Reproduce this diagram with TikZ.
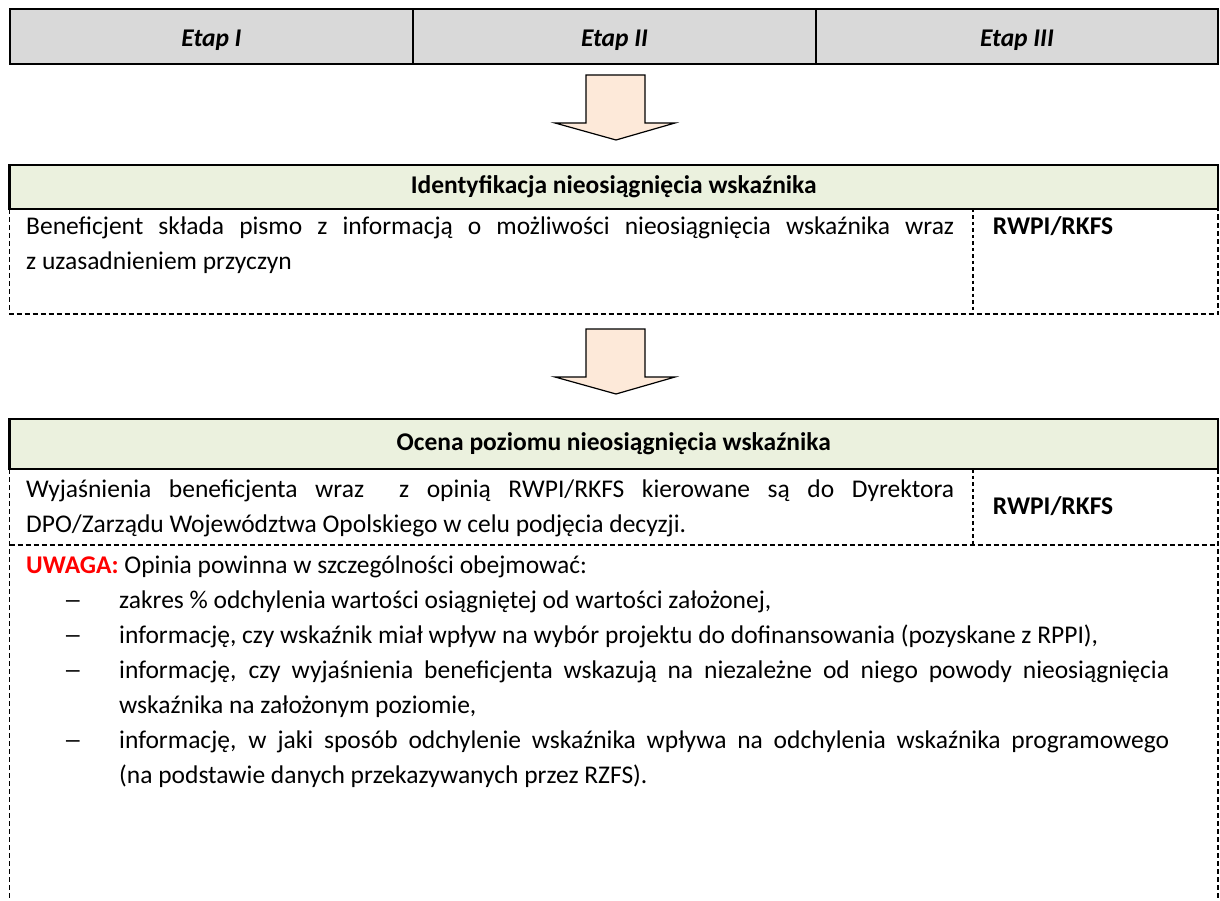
\documentclass[tikz,border=0pt]{standalone}
\usepackage{fontspec}
\usepackage{graphicx}
\setmainfont{Carlito}
\definecolor{etapgray}{HTML}{D9D9D9}
\definecolor{hdrgreen}{HTML}{EBF1DE}
\definecolor{arrowfill}{HTML}{FDE9D9}
\definecolor{uwagared}{HTML}{FF0000}
\newcommand{\bodyfont}{\fontsize{25.5}{35}\selectfont}
\newcommand{\listdash}{\scalebox{1.5}[1]{–}}
\begin{document}
\begin{tikzpicture}[x=1pt,y=-1pt,
  thickborder/.style={draw=black,line width=2.5pt},
  dashborder/.style={draw=black,line width=1.6pt,dash pattern=on 5pt off 3pt},
  divborder/.style={draw=black,line width=2pt,dash pattern=on 3.5pt off 3pt},
  txt/.style={font=\bodyfont,inner sep=0pt},
  etapcell/.style={thickborder,fill=etapgray,minimum height=55pt,inner sep=0pt},
  etaptxt/.style={inner sep=0pt,anchor=base,font=\bodyfont\bfseries\itshape},
  hdrcell/.style={thickborder,fill=hdrgreen,minimum width=1208.5pt,inner sep=0pt,
     font=\bodyfont\bfseries},
  bigarrow/.style={draw=black,line width=1.2pt,fill=arrowfill,line join=miter},
  listtxt/.style={txt,text width=1050pt,align=justify,anchor=base west},
  dashmark/.style={txt,anchor=base}
]
\useasboundingbox (0,0) rectangle (1220,901);
\fill[white] (0,0) rectangle (1220,901);

% top table
\node[etapcell,minimum width=403pt] (e1c) at (211.5,36.5) {};
\node[etapcell,minimum width=403pt] (e2c) at (614.5,36.5) {};
\node[etapcell,minimum width=402pt] (e3c) at (1017,36.5) {};
\node[etaptxt] (e1) at (211.5,47) {Etap I};
\node[etaptxt] (e2) at (614.5,47) {Etap II};
\node[etaptxt] (e3) at (1017,47) {Etap III};

% arrow 1
\draw[bigarrow] (586,75) -- (645,75) -- (645,123) -- (675,123) -- (616,140)
  -- (555,123) -- (586,123) -- cycle;

% identification box
\node[hdrcell,minimum height=44pt] (ih) at (613.75,187) {Identyfikacja nieosiągnięcia wskaźnika};
\draw[dashborder] (9.5,209) -- (9.5,314) -- (1218,314) -- (1218,209);
\draw[divborder] (973,209) -- (973,314);
\node[txt,text width=928pt,align=justify,anchor=base west] (it) at (26,235)
  {Beneficjent składa pismo z informacją o możliwości nieosiągnięcia wskaźnika wraz\linebreak z uzasadnieniem przyczyn};
\node[txt,anchor=base,font=\bodyfont\bfseries] (ir) at (1053,235) {RWPI/RKFS};

% arrow 2
\draw[bigarrow] (586,329) -- (645,329) -- (645,377) -- (675,377) -- (616,394)
  -- (555,377) -- (586,377) -- cycle;

% assessment box
\node[hdrcell,minimum height=50pt] (oh) at (613.75,444) {Ocena poziomu nieosiągnięcia wskaźnika};
\draw[dashborder] (9.5,469) -- (9.5,901);
\draw[dashborder] (1218,469) -- (1218,901);
\draw[dashborder] (9.5,545) -- (1218,545);
\draw[divborder] (973,469) -- (973,545);
\node[txt,text width=928pt,align=justify,anchor=base west] (ot) at (26,497)
  {Wyjaśnienia beneficjenta wraz \ z opinią RWPI/RKFS kierowane są do Dyrektora\linebreak DPO/Zarządu Województwa Opolskiego w celu podjęcia decyzji.};
\node[txt,anchor=base,font=\bodyfont\bfseries] (or) at (1053,514) {RWPI/RKFS};

\node[txt,anchor=base west] (uw) at (26,573)
  {\textcolor{uwagared}{\bfseries UWAGA:} Opinia powinna w szczególności obejmować:};

\node[dashmark] (d1) at (73,608) {\listdash};
\node[listtxt] (l1) at (119,608) {zakres \% odchylenia wartości osiągniętej od wartości założonej,};
\node[dashmark] (d2) at (73,643) {\listdash};
\node[listtxt] (l2) at (119,643) {informację, czy wskaźnik miał wpływ na wybór projektu do dofinansowania (pozyskane z RPPI),};
\node[dashmark] (d3) at (73,678) {\listdash};
\node[listtxt] (l3) at (119,678) {informację, czy wyjaśnienia beneficjenta wskazują na niezależne od niego powody nieosiągnięcia\linebreak wskaźnika na założonym poziomie,};
\node[dashmark] (d4) at (73,748) {\listdash};
\node[listtxt] (l4) at (119,748) {informację, w jaki sposób odchylenie wskaźnika wpływa na odchylenia wskaźnika programowego\linebreak (na podstawie danych przekazywanych przez RZFS).};
\end{tikzpicture}
\end{document}
